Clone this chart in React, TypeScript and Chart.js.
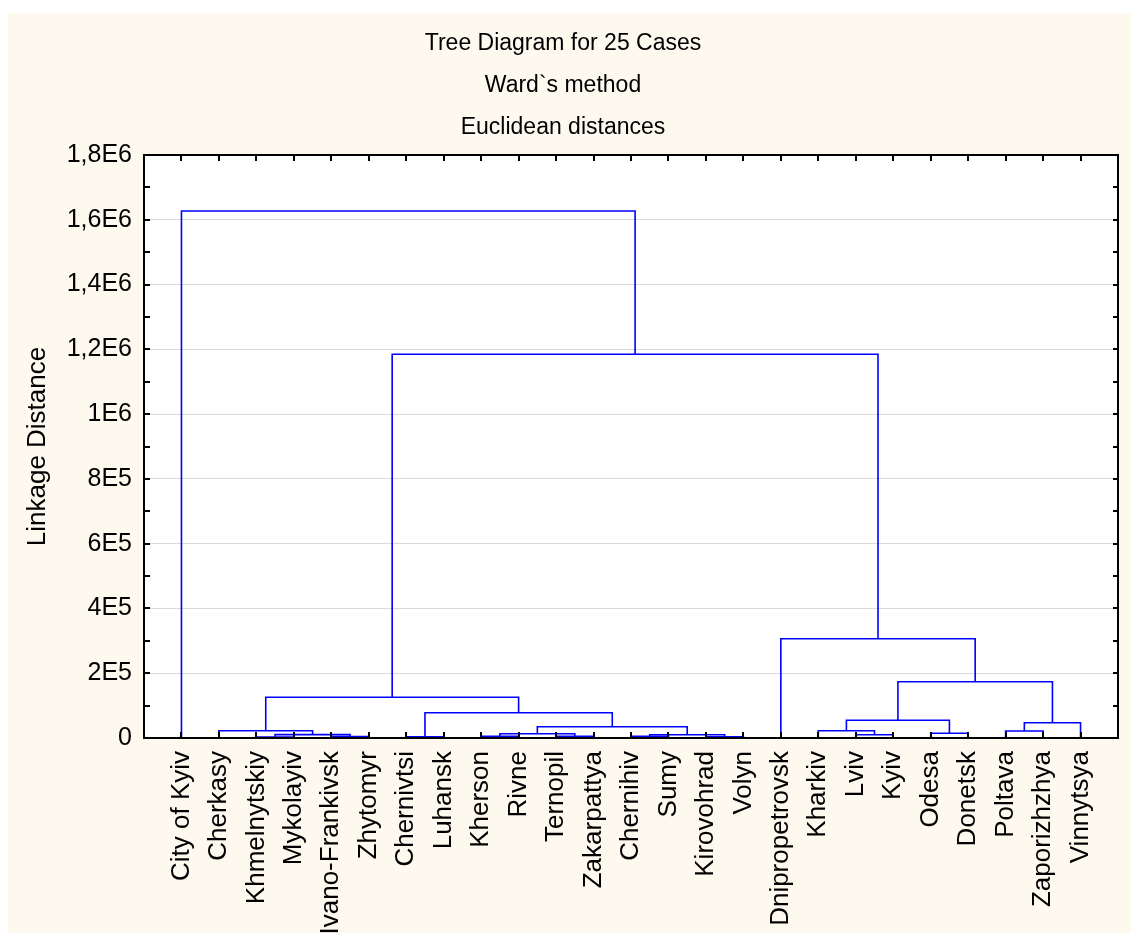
import { useEffect, useRef } from 'react';
import { Chart, registerables } from 'chart.js';

Chart.register(...registerables);

// ---------- DATA ----------
const leaves = [
  'City of Kyiv', 'Cherkasy', 'Khmelnytskiy', 'Mykolayiv', 'Ivano-Frankivsk',
  'Zhytomyr', 'Chernivtsi', 'Luhansk', 'Kherson', 'Rivne', 'Ternopil',
  'Zakarpattya', 'Chernihiv', 'Sumy', 'Kirovohrad', 'Volyn', 'Dnipropetrovsk',
  'Kharkiv', 'Lviv', 'Kyiv', 'Odesa', 'Donetsk', 'Poltava', 'Zaporizhzhya', 'Vinnytsya',
];

// Linkage steps: indices < 25 are leaves, index 25 + k is the cluster made at step k
const mergeA = [2, 4, 6, 8, 10, 12, 14, 25, 18, 28, 30, 20, 22, 1, 17, 34, 37, 39, 27, 38, 42, 16, 44, 0];
const mergeB = [3, 5, 7, 9, 11, 13, 15, 26, 19, 29, 31, 21, 23, 32, 33, 35, 24, 36, 40, 43, 41, 45, 46, 47];
const mergeHeight = [
  3000, 4500, 3500, 5500, 5000, 5000, 4000, 10300, 10200, 13000, 10000, 14500,
  21600, 22500, 22500, 34900, 47200, 54600, 78100, 125700, 173800, 306600,
  1185000, 1627000,
];

const yTickValues = [0, 200000, 400000, 600000, 800000, 1000000, 1200000, 1400000, 1600000, 1800000];
const yTickLabels = ['0', '2E5', '4E5', '6E5', '8E5', '1E6', '1,2E6', '1,4E6', '1,6E6', '1,8E6'];
const yMinorStep = 100000;

const titleLines = ['Tree Diagram for 25 Cases', 'Ward`s method', 'Euclidean distances'];
const yAxisTitle = 'Linkage Distance';

// ---------- STYLE ----------
const FONT = '"Liberation Sans", Arial, Helvetica, sans-serif';
const CREAM = 'rgb(254,249,239)';
const LINE_BLUE = '#0000ff';

function buildDatasets() {
  const pos: number[] = leaves.map((_, i) => i + 1);
  const hgt: number[] = leaves.map(() => 0);
  const datasets: any[] = [];
  for (let k = 0; k < mergeA.length; k++) {
    const a = mergeA[k];
    const b = mergeB[k];
    const h = mergeHeight[k];
    const xa = pos[a];
    const xb = pos[b];
    datasets.push({
      data: [
        { x: xa, y: hgt[a] },
        { x: xa, y: h },
        { x: xb, y: h },
        { x: xb, y: hgt[b] },
      ],
      borderColor: LINE_BLUE,
      borderWidth: 1.6,
      pointRadius: 0,
      fill: false,
      tension: 0,
    });
    pos.push((xa + xb) / 2);
    hgt.push(h);
  }
  return datasets;
}

const backgroundPlugin = {
  id: 'bgPlugin',
  beforeDraw(chart: any) {
    const { ctx, width, height, chartArea } = chart;
    ctx.save();
    ctx.fillStyle = CREAM;
    ctx.fillRect(0, 0, width, height);
    ctx.fillStyle = '#ffffff';
    ctx.fillRect(chartArea.left, chartArea.top, chartArea.right - chartArea.left, chartArea.bottom - chartArea.top);
    ctx.restore();
  },
};

const framePlugin = {
  id: 'framePlugin',
  afterDraw(chart: any) {
    const { ctx, chartArea } = chart;
    const { left, right, top, bottom } = chartArea;
    const xs = chart.scales.x;
    const ys = chart.scales.y;
    ctx.save();
    ctx.strokeStyle = '#000';
    ctx.lineWidth = 2;
    ctx.beginPath();
    for (let v = 0; v <= ys.max + 1; v += yMinorStep) {
      const py = Math.round(ys.getPixelForValue(v));
      ctx.moveTo(left, py);
      ctx.lineTo(left + 6, py);
      ctx.moveTo(right, py);
      ctx.lineTo(right - 5, py);
    }
    for (let i = 0; i < leaves.length; i++) {
      const px = Math.round(xs.getPixelForValue(i + 1));
      ctx.moveTo(px, bottom);
      ctx.lineTo(px, bottom - 6);
      ctx.moveTo(px, top);
      ctx.lineTo(px, top + 6);
    }
    ctx.stroke();
    ctx.strokeRect(left, top, right - left, bottom - top);
    ctx.restore();
  },
};

export default function App() {
  const canvasRef = useRef<HTMLCanvasElement | null>(null);

  useEffect(() => {
    if (!canvasRef.current) return;
    const chart = new Chart(canvasRef.current, {
      type: 'line',
      data: { datasets: buildDatasets() },
      options: {
        responsive: false,
        animation: false,
        events: [],
        layout: { padding: { top: 0, right: 13, bottom: 0, left: 0 } },
        plugins: {
          legend: { display: false },
          tooltip: { enabled: false },
          title: {
            display: true,
            text: titleLines,
            color: '#000',
            font: { size: 23, family: FONT, weight: 'normal', lineHeight: 42 / 23 },
            padding: { top: 10, bottom: 6 },
          },
        },
        scales: {
          x: {
            type: 'linear',
            min: 0,
            max: leaves.length + 1,
            afterBuildTicks: (s: any) => {
              s.ticks = leaves.map((_, i) => ({ value: i + 1 }));
            },
            afterFit: (s: any) => {
              s.height = 195;
            },
            grid: { display: false, drawTicks: false },
            border: { display: false },
            ticks: {
              autoSkip: false,
              maxRotation: 90,
              minRotation: 90,
              padding: 13,
              color: '#000',
              font: { size: 26, family: FONT },
              callback: (_v: any, i: number) => leaves[i],
            },
          },
          y: {
            type: 'linear',
            min: 0,
            max: 1800000,
            afterBuildTicks: (s: any) => {
              s.ticks = yTickValues.map((v) => ({ value: v }));
            },
            afterFit: (s: any) => {
              s.width = 136;
            },
            grid: { color: '#d9d9d9', lineWidth: 1, drawTicks: false },
            border: { display: false },
            ticks: {
              padding: 12,
              color: '#000',
              font: { size: 25, family: FONT },
              callback: (_v: any, i: number) => yTickLabels[i],
            },
            title: {
              display: true,
              text: yAxisTitle,
              color: '#000',
              font: { size: 26, family: FONT },
              padding: { top: 14.5, bottom: 0 },
            },
          },
        },
      },
      plugins: [backgroundPlugin, framePlugin],
    } as any);
    return () => chart.destroy();
  }, []);

  return (
    <div style={{ position: 'fixed', left: 8, top: 13, width: 1123, height: 920 }}>
      <canvas ref={canvasRef} width={1123} height={920} style={{ display: 'block' }} />
    </div>
  );
}
